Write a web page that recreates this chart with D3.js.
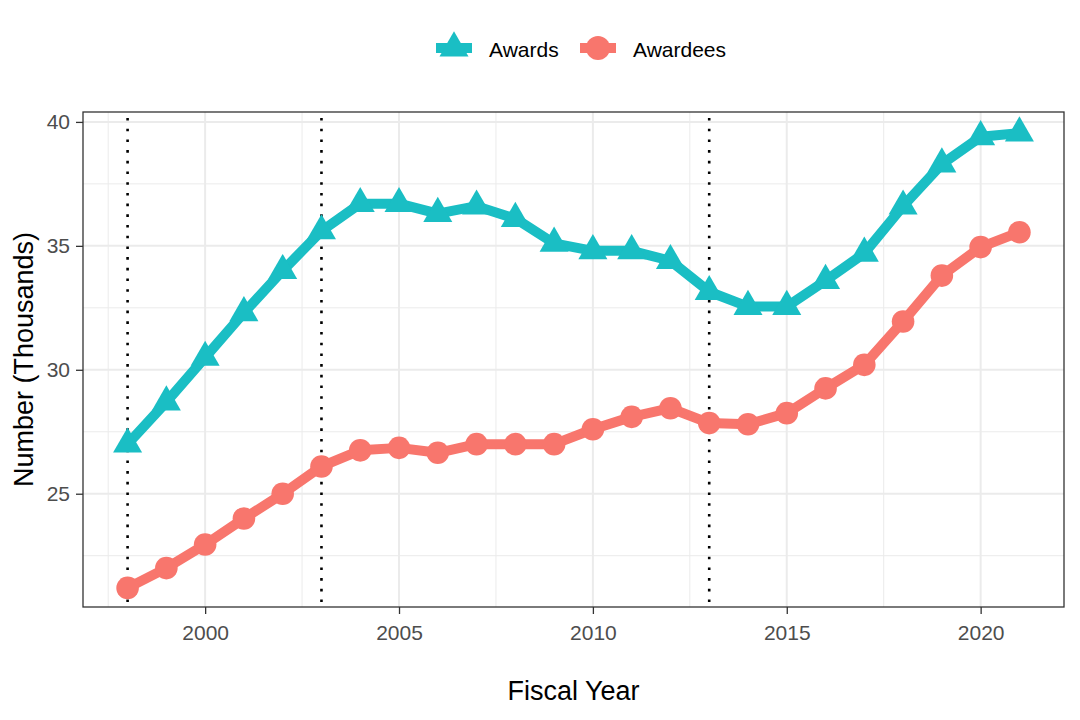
<!DOCTYPE html>
<html lang="en">
<head>
<meta charset="UTF-8">
<title>Awards and Awardees</title>
<script src="https://cdn.jsdelivr.net/npm/d3@7"></script>
<style>
  body { margin: 0; background: #fff; }
  text { font-family: "Liberation Sans", Arial, sans-serif; }
</style>
</head>
<body>
<svg id="chart" width="1080" height="720"></svg>
<script>
// data (thousands)
var years = [1998, 1999, 2000, 2001, 2002, 2003, 2004, 2005, 2006, 2007, 2008, 2009,
             2010, 2011, 2012, 2013, 2014, 2015, 2016, 2017, 2018, 2019, 2020, 2021];
var awards = [27.0, 28.7, 30.5, 32.3, 34.0, 35.6, 36.7, 36.7, 36.3, 36.6, 36.1, 35.1,
              34.8, 34.8, 34.4, 33.15, 32.55, 32.55, 33.6, 34.7, 36.6, 38.3, 39.4, 39.55];
var awardees = [21.2, 22.0, 22.95, 24.0, 25.0, 26.1, 26.75, 26.85, 26.65, 27.0, 27.0, 27.0,
                27.6, 28.1, 28.45, 27.85, 27.8, 28.25, 29.25, 30.2, 31.95, 33.8, 34.95, 35.55];
var markerYears = [1998, 2003, 2013];
var xTicks = [2000, 2005, 2010, 2015, 2020];
var yTicks = [25, 30, 35, 40];
var seriesNames = ["Awards", "Awardees"];

var colAwards = "#1ABEC4", colAwardees = "#F8766D";

var svg = d3.select("#chart"),
    margin = { top: 112, right: 16, bottom: 113, left: 83 },
    width = 1080 - margin.left - margin.right,
    height = 720 - margin.top - margin.bottom,
    g = svg.append("g").attr("transform", "translate(" + margin.left + "," + margin.top + ")");

var x = d3.scaleLinear().domain([1996.85, 2022.15]).range([0, width]);
var y = d3.scaleLinear().domain([20.43, 40.4]).range([height, 0]);

// grid
var minorX = d3.range(1997.5, 2022.5, 5), minorY = d3.range(22.5, 40.5, 5);
g.selectAll(".gxm").data(minorX).enter().append("line")
    .attr("x1", d => x(d)).attr("x2", d => x(d)).attr("y1", 0).attr("y2", height)
    .attr("stroke", "#EBEBEB").attr("stroke-width", 1);
g.selectAll(".gym").data(minorY).enter().append("line")
    .attr("x1", 0).attr("x2", width).attr("y1", d => y(d)).attr("y2", d => y(d))
    .attr("stroke", "#EBEBEB").attr("stroke-width", 1);
g.selectAll(".gx").data(xTicks).enter().append("line")
    .attr("x1", d => x(d)).attr("x2", d => x(d)).attr("y1", 0).attr("y2", height)
    .attr("stroke", "#EBEBEB").attr("stroke-width", 2);
g.selectAll(".gy").data(yTicks).enter().append("line")
    .attr("x1", 0).attr("x2", width).attr("y1", d => y(d)).attr("y2", d => y(d))
    .attr("stroke", "#EBEBEB").attr("stroke-width", 2);

// vertical dotted reference lines
g.selectAll(".vl").data(markerYears).enter().append("line")
    .attr("x1", d => x(d)).attr("x2", d => x(d)).attr("y1", 6).attr("y2", height)
    .attr("stroke", "#000").attr("stroke-width", 2.6)
    .attr("stroke-dasharray", "2.6 8.1");

var line = d3.line().x((d, i) => x(years[i])).y(d => y(d));

g.append("path").datum(awards)
    .attr("fill", "none").attr("stroke", colAwards).attr("stroke-width", 10)
    .attr("stroke-linejoin", "round").attr("d", line);
g.append("path").datum(awardees)
    .attr("fill", "none").attr("stroke", colAwardees).attr("stroke-width", 10)
    .attr("stroke-linejoin", "round").attr("d", line);

var tri = d3.symbol().type(d3.symbolTriangle).size(365);
g.selectAll(".tri").data(awards).enter().append("path")
    .attr("d", tri)
    .attr("transform", (d, i) => "translate(" + x(years[i]) + "," + y(d) + ")")
    .attr("fill", colAwards);
g.selectAll(".dot").data(awardees).enter().append("circle")
    .attr("cx", (d, i) => x(years[i])).attr("cy", d => y(d)).attr("r", 11.3)
    .attr("fill", colAwardees);

// panel border
g.append("rect").attr("width", width).attr("height", height)
    .attr("fill", "none").attr("stroke", "#333").attr("stroke-width", 1.3);

// axes
var xAxis = g.append("g").attr("transform", "translate(0," + height + ")")
    .call(d3.axisBottom(x).tickValues(xTicks).tickFormat(d3.format("d")).tickSize(7).tickPadding(11));
var yAxis = g.append("g")
    .call(d3.axisLeft(y).tickValues(yTicks).tickSize(7).tickPadding(6));
[xAxis, yAxis].forEach(function (a) {
    a.select(".domain").remove();
    a.selectAll("line").attr("stroke", "#333").attr("stroke-width", 1.3);
    a.selectAll("text").attr("fill", "#4D4D4D").style("font-size", "21px")
        .style("font-family", "'Liberation Sans', Arial, sans-serif");
});

svg.append("text").attr("x", margin.left + width / 2).attr("y", 700)
    .attr("text-anchor", "middle").style("font-size", "27px").attr("fill", "#000")
    .text("Fiscal Year");
svg.append("text")
    .attr("transform", "translate(33," + (margin.top + height / 2) + ") rotate(-90)")
    .attr("text-anchor", "middle").style("font-size", "27px").attr("fill", "#000")
    .text("Number (Thousands)");

// legend
var leg = svg.append("g").attr("transform", "translate(0,48)");
leg.append("line").attr("x1", 436).attr("x2", 472).attr("y1", 0).attr("y2", 0)
    .attr("stroke", colAwards).attr("stroke-width", 10);
leg.append("path").attr("d", tri).attr("transform", "translate(454,0)").attr("fill", colAwards);
leg.append("text").attr("x", 489).attr("y", 9).style("font-size", "21px").text(seriesNames[0]);
leg.append("line").attr("x1", 580).attr("x2", 616).attr("y1", 0).attr("y2", 0)
    .attr("stroke", colAwardees).attr("stroke-width", 10);
leg.append("circle").attr("cx", 598).attr("cy", 0).attr("r", 12).attr("fill", colAwardees);
leg.append("text").attr("x", 633).attr("y", 9).style("font-size", "21px").text(seriesNames[1]);
</script>
</body>
</html>
